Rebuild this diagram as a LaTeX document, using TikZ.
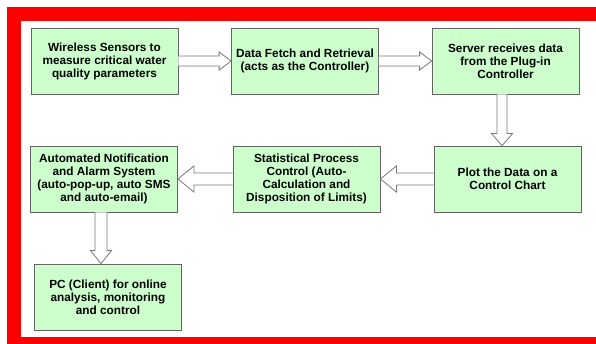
\documentclass[tikz,border=0pt]{standalone}
\usepackage{fontspec}
\setmainfont{Liberation Sans}
\usetikzlibrary{calc}
\definecolor{framered}{RGB}{255,0,0}
\definecolor{boxfill}{RGB}{204,255,204}
\definecolor{boxedge}{RGB}{100,100,100}
\definecolor{arrowedge}{RGB}{120,120,120}
% hollow block arrow: from, to, shaft half width, head half width, head length
\newcommand{\hollowarrow}[5]{%
  \coordinate (hb) at ($(#2)!#5pt!(#1)$);
  \draw[arrowedge,fill=white,line width=0.8pt,line join=miter]
    ($(#1)!#3pt!90:(#2)$) -- ($(hb)!#3pt!-90:(#1)$) -- ($(hb)!#4pt!-90:(#1)$) -- (#2)
    -- ($(hb)!#4pt!90:(#1)$) -- ($(hb)!#3pt!90:(#1)$) -- ($(#1)!#3pt!-90:(#2)$);}

\begin{document}
\begin{tikzpicture}[x=1pt,y=-1pt,
  box/.style={draw=boxedge,fill=boxfill,line width=0.8pt,minimum width=147pt,
    minimum height=66pt,inner sep=1pt,align=center,
    font=\fontsize{11.8}{13}\selectfont\bfseries}]
\useasboundingbox (0,0) rectangle (596,344);
% red frame, open on the right
\fill[framered] (7,7) rectangle (596,344);
\fill[white] (21,21) rectangle (596,337);
\foreach \nm/\cx/\cy/\txt in {
sens/104.5/61/{Wireless Sensors to\\measure critical water\\quality parameters},
fetch/305/61/{Data Fetch and Retrieval\\(acts as the Controller)},
server/505.5/61/{Server receives data\\from the Plug-in\\Controller},
plot/507.5/179/{Plot the Data on a\\Control Chart},
spc/306.5/179/{Statistical Process\\Control (Auto-\\Calculation and\\Disposition of Limits)},
alarm/104/179/{Automated Notification\\and Alarm System\\(auto-pop-up, auto SMS\\and auto-email)},
client/108/297/{PC (Client) for online\\analysis, monitoring\\and control}}{
  \node[box] (\nm) at (\cx,\cy) {\txt};
}
\coordinate (srvout) at ($(server.south)+(-3.5,0)$);
\coordinate (plotin) at (srvout |- plot.north);
\coordinate (alarmout) at ($(alarm.south)+(-3,0)$);
\coordinate (clientin) at (alarmout |- client.north);
\hollowarrow{sens.east}{fetch.west}{5}{9}{12}
\hollowarrow{fetch.east}{server.west}{5}{9}{12}
\hollowarrow{srvout}{plotin}{5}{10.5}{12}
\hollowarrow{plot.west}{spc.east}{6}{13}{16}
\hollowarrow{spc.west}{alarm.east}{6}{13}{16}
\hollowarrow{alarmout}{clientin}{6}{10.5}{13}
\end{tikzpicture}
\end{document}
